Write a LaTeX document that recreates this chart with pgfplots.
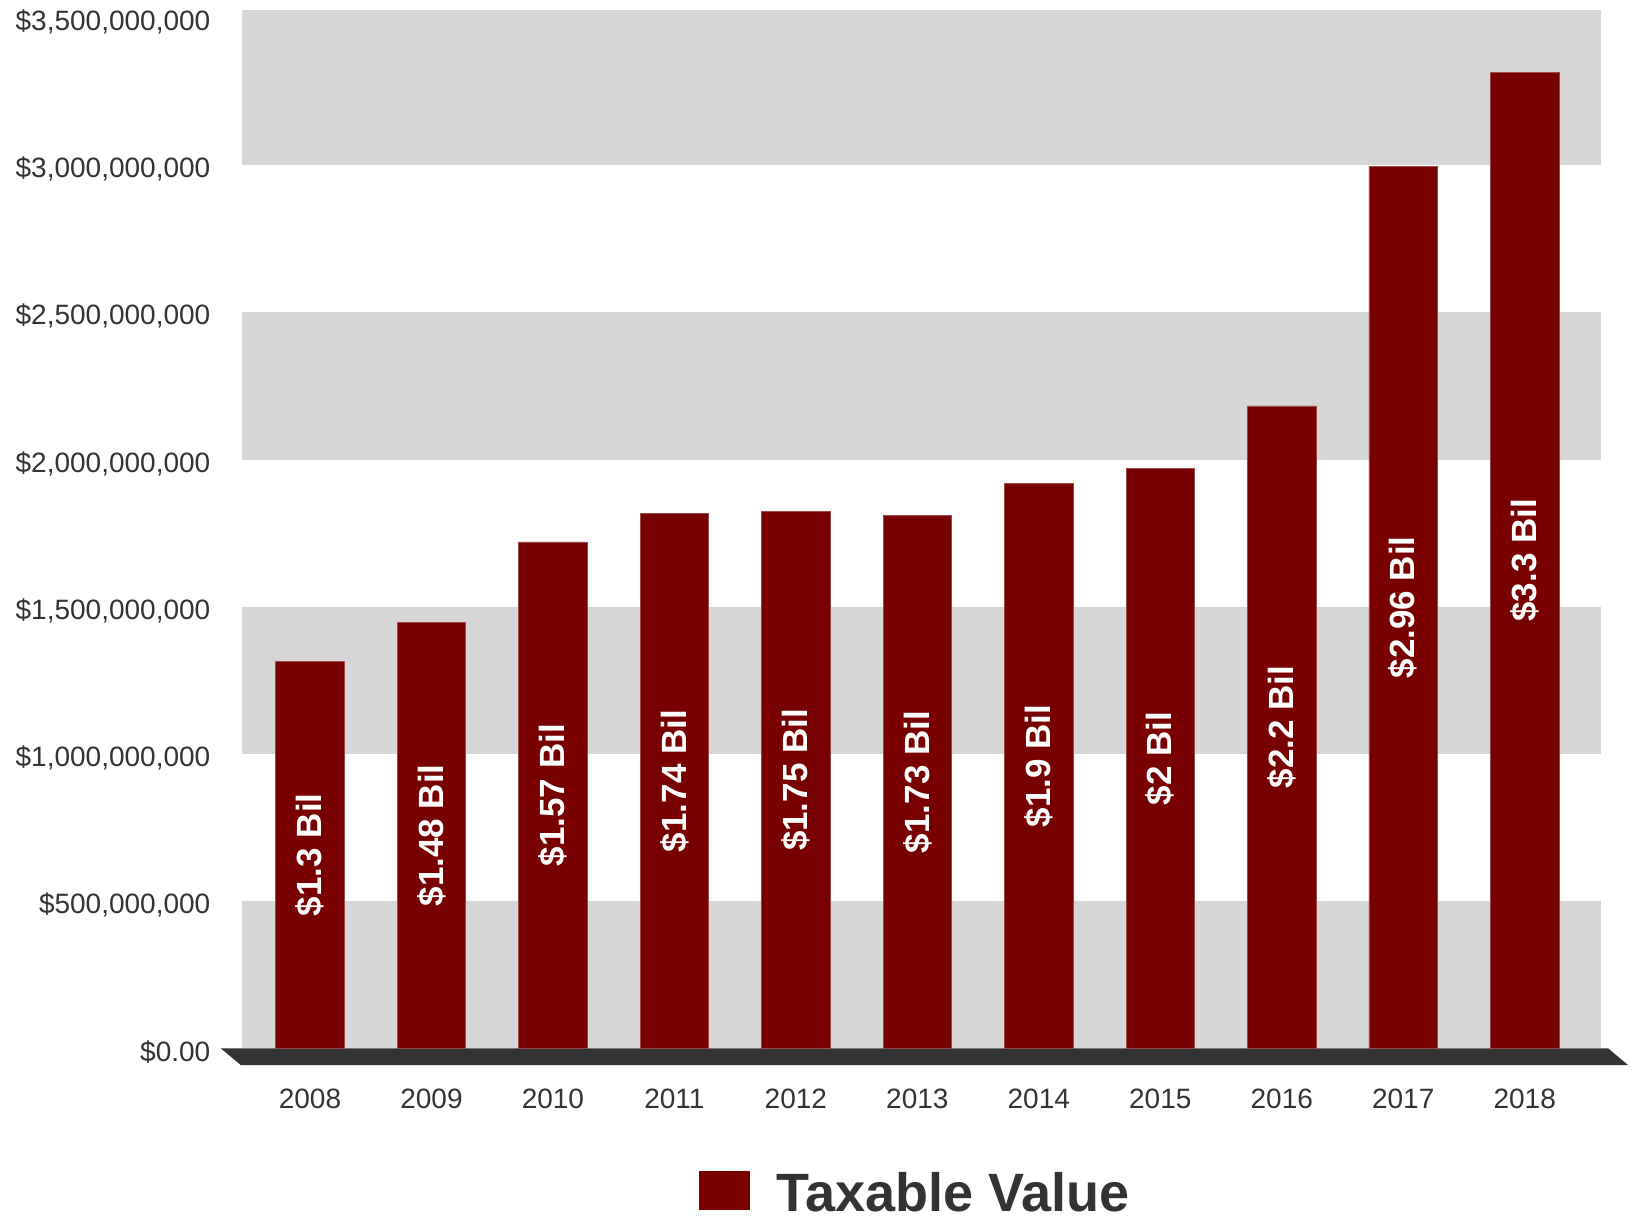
\documentclass[border=0pt]{standalone}
\usepackage{pgfplots}
\pgfplotsset{compat=1.18}
\usepackage{pgfplotstable}
\usepackage{fontspec}
\setmainfont{Liberation Sans}
\definecolor{barred}{HTML}{780000}
\definecolor{baredge}{HTML}{9A4A4A}
\definecolor{band}{HTML}{D6D6D6}
\definecolor{floorc}{HTML}{333333}
\definecolor{txt}{HTML}{333333}

\pgfplotstableread{
x val lab
0 1.315e9 1.3
1 1.447e9 1.48
2 1.720e9 1.57
3 1.816e9 1.74
4 1.823e9 1.75
5 1.809e9 1.73
6 1.919e9 1.9
7 1.970e9 2
8 2.182e9 2.2
9 2.996e9 2.96
10 3.316e9 3.3
}\datatable

\begin{document}
\begin{tikzpicture}
\begin{axis}[
  at={(0,0)}, anchor=south west,
  scale only axis, width=679.65bp, height=519.15bp,
  xmin=-0.562, xmax=10.628, ymin=0, ymax=3.527e9,
  axis line style={draw=none},
  tick style={draw=none},
  major tick length=0pt,
  clip=false,
  xtick={0,1,2,3,4,5,6,7,8,9,10},
  xticklabels={2008,2009,2010,2011,2012,2013,2014,2015,2016,2017,2018},
  ytick={0,0.5e9,1e9,1.5e9,2e9,2.5e9,3e9,3.5e9},
  yticklabels={{\$0.00},{\$500,000,000},{\$1,000,000,000},{\$1,500,000,000},{\$2,000,000,000},{\$2,500,000,000},{\$3,000,000,000},{\$3,500,000,000}},
  scaled y ticks=false,
  tick label style={font=\fontsize{14bp}{16bp}\selectfont, text=txt},
  yticklabel style={inner sep=0pt, anchor=east, xshift=-15.5bp, yshift=-2bp},
  xticklabel style={inner sep=0pt, anchor=north, yshift=-20bp},
  legend style={at={(0.3364,-0.1180)}, anchor=north west, draw=none, fill=none,
    font=\bfseries\fontsize{27bp}{31bp}\selectfont, text=txt, inner sep=0pt,
    nodes={inner ysep=0pt}},
  legend cell align=left,
]
% background bands
\fill[band] (axis cs:-0.562,0) rectangle (axis cs:10.628,0.5e9);
\fill[band] (axis cs:-0.562,1e9) rectangle (axis cs:10.628,1.5e9);
\fill[band] (axis cs:-0.562,2e9) rectangle (axis cs:10.628,2.5e9);
\fill[band] (axis cs:-0.562,3e9) rectangle (axis cs:10.628,3.527e9);
% floor
\fill[floorc] ([xshift=-10.5bp]rel axis cs:0,0) -- ([xshift=3.5bp]rel axis cs:1,0)
  -- ([xshift=13.5bp,yshift=-8.35bp]rel axis cs:1,0) -- ([xshift=-0.5bp,yshift=-8.35bp]rel axis cs:0,0) -- cycle;

\addplot[ybar, bar width=34.3bp, bar shift=0pt, fill=barred, draw=baredge, line width=0.4bp,
  legend image code/.code={\fill[barred] (0bp,-7.7bp) rectangle (25bp,11bp);}]
  table[x=x, y=val]{\datatable};
\addlegendentry{\hspace{11bp}Taxable Value}

\addplot[only marks, mark=none, forget plot,
  point meta=explicit symbolic,
  nodes near coords={\$\pgfplotspointmeta\ Bil},
  every node near coord/.append style={rotate=90, anchor=center, text=white,
    font=\bfseries\fontsize{17.5bp}{20bp}\selectfont, inner sep=0pt}]
  table[x=x, y expr=\thisrow{val}/2, meta=lab]{\datatable};
\end{axis}
\pgfresetboundingbox
\path[use as bounding box] (-120.85bp,-87.85bp) rectangle (696.15bp,524.15bp);
\end{tikzpicture}
\end{document}
